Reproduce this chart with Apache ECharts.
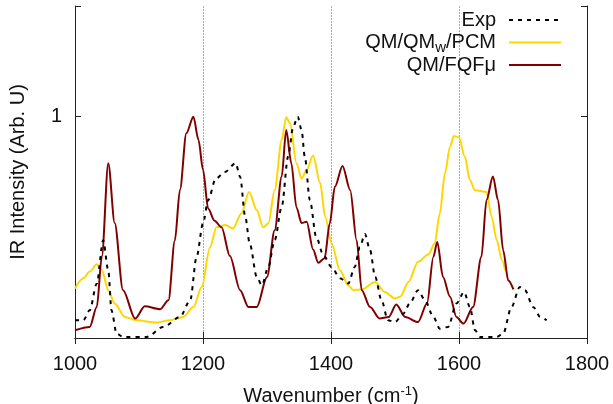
<!DOCTYPE html>
<html>
<head>
<meta charset="utf-8">
<script src="https://cdn.jsdelivr.net/npm/echarts@6/dist/echarts.min.js"></script>
<style>
  html, body { margin: 0; padding: 0; background: #fff; }
  #chart { width: 613px; height: 404px; }
</style>
</head>
<body>
<div id="chart"></div>
<script>
// x ticks (wavenumber) and y ticks
const xTicks = [1000, 1200, 1400, 1600, 1800]
const yTicks = [1]

// [wavenumber, intensity]
const expData = [
  [1000, 0.08], [1013, 0.08], [1023, 0.125], [1034, 0.246], [1044, 0.442], [1052, 0.306],
  [1057, 0.125], [1065, 0.02], [1075, 0.005], [1112, 0.005], [1138, 0.05], [1164, 0.095],
  [1180, 0.17], [1190, 0.367], [1200, 0.517], [1208, 0.623], [1220, 0.72], [1234, 0.75],
  [1251, 0.79], [1258, 0.728], [1266, 0.548], [1273, 0.427], [1284, 0.276], [1292, 0.238],
  [1302, 0.32], [1312, 0.442], [1323, 0.593], [1333, 0.82], [1341, 0.955], [1348, 1.0],
  [1354, 0.94], [1359, 0.82], [1367, 0.623], [1377, 0.455], [1388, 0.375], [1401, 0.32],
  [1414, 0.27], [1427, 0.246], [1437, 0.32], [1445, 0.41], [1453, 0.47], [1461, 0.397],
  [1469, 0.276], [1479, 0.17], [1489, 0.08], [1500, 0.072], [1513, 0.11], [1523, 0.156],
  [1536, 0.216], [1547, 0.17], [1560, 0.095], [1570, 0.042], [1583, 0.05], [1596, 0.156],
  [1608, 0.208], [1617, 0.14], [1625, 0.035], [1633, 0.005], [1659, 0.005], [1669, 0.02],
  [1682, 0.14], [1695, 0.23], [1703, 0.216], [1716, 0.14], [1727, 0.095], [1737, 0.08]
]

const pcmData = [
  [1000, 0.224], [1013, 0.27], [1023, 0.30], [1034, 0.333], [1042, 0.306], [1052, 0.216],
  [1062, 0.156], [1078, 0.095], [1096, 0.08], [1128, 0.07], [1148, 0.08], [1169, 0.095],
  [1185, 0.14], [1198, 0.23], [1211, 0.41], [1221, 0.50], [1235, 0.51], [1247, 0.495],
  [1260, 0.563], [1272, 0.66], [1284, 0.578], [1294, 0.50], [1302, 0.517], [1312, 0.668],
  [1323, 0.895], [1330, 0.997], [1336, 0.97], [1346, 0.79], [1354, 0.72], [1362, 0.76],
  [1372, 0.824], [1383, 0.70], [1391, 0.548], [1401, 0.427], [1414, 0.306], [1427, 0.238],
  [1435, 0.216], [1448, 0.219], [1469, 0.253], [1484, 0.208], [1500, 0.178], [1508, 0.186],
  [1521, 0.253], [1536, 0.344], [1552, 0.377], [1562, 0.427], [1570, 0.563], [1578, 0.744],
  [1586, 0.864], [1592, 0.913], [1600, 0.907], [1609, 0.82], [1617, 0.714], [1625, 0.668],
  [1643, 0.66], [1651, 0.548], [1659, 0.442], [1667, 0.352], [1672, 0.306]
]

const fqfData = [
  [1000, 0.035], [1023, 0.05], [1034, 0.14], [1042, 0.37], [1052, 0.79], [1062, 0.52],
  [1075, 0.216], [1094, 0.088], [1109, 0.143], [1133, 0.13], [1146, 0.17], [1156, 0.44],
  [1164, 0.67], [1174, 0.925], [1185, 1.0], [1193, 0.895], [1200, 0.76], [1208, 0.585],
  [1218, 0.53], [1229, 0.50], [1242, 0.37], [1258, 0.216], [1271, 0.14], [1284, 0.14],
  [1300, 0.276], [1312, 0.487], [1323, 0.73], [1330, 0.94], [1338, 0.79], [1346, 0.59],
  [1354, 0.52], [1362, 0.525], [1372, 0.40], [1380, 0.34], [1390, 0.36], [1398, 0.517],
  [1406, 0.683], [1418, 0.777], [1430, 0.668], [1440, 0.442], [1448, 0.216], [1461, 0.14],
  [1476, 0.088], [1490, 0.095], [1502, 0.151], [1516, 0.095], [1536, 0.072], [1550, 0.156],
  [1560, 0.367], [1566, 0.434], [1575, 0.276], [1586, 0.186], [1596, 0.095], [1607, 0.065],
  [1622, 0.14], [1635, 0.367], [1643, 0.623], [1653, 0.73], [1661, 0.623], [1669, 0.397],
  [1677, 0.26], [1685, 0.22]
]

const font = 'Liberation Sans'

const chart = echarts.init(document.getElementById('chart'))

const axisBase = {
  axisLine: { show: true, lineStyle: { color: '#222', width: 1 } },
  axisTick: { show: true, inside: true, length: 6, lineStyle: { color: '#222' } },
  splitLine: { show: false }
}

chart.setOption({
  animation: false,
  textStyle: { fontFamily: font },
  grid: { left: 75, right: 26, top: 6, bottom: 66, containLabel: false, outerBoundsMode: 'none' },
  legend: {
    orient: 'vertical',
    align: 'right',
    right: 51,
    top: 10,
    padding: 0,
    itemWidth: 52,
    itemHeight: 12,
    itemGap: 0,
    selectedMode: false,
    itemStyle: { opacity: 0 },
    formatter: name => name === 'QM/QMw/PCM' ? '{a|QM/QM}{s|w}{a|/PCM}' : name,
    textStyle: {
      fontSize: 20, color: '#111', fontFamily: font, padding: [0, 8, 0, 0], lineHeight: 20,
      rich: {
        a: { fontSize: 20, fontFamily: font, color: '#111', lineHeight: 20 },
        s: { fontSize: 15, fontFamily: font, color: '#111', lineHeight: 20, padding: [10, 0, 0, 0] }
      }
    },
    data: ['Exp', 'QM/QMw/PCM', 'QM/FQFμ']
  },
  xAxis: [{
    ...axisBase,
    type: 'value',
    min: xTicks[0],
    max: xTicks[xTicks.length - 1],
    interval: 200,
    name: 'Wavenumber (cm{sup|-1})',
    nameLocation: 'middle',
    nameGap: 47,
    nameTextStyle: {
      fontSize: 20, color: '#111', fontFamily: font,
      rich: { sup: { fontSize: 13, fontFamily: font, color: '#111', padding: [0, 0, 10, 0] } }
    },
    axisLabel: { fontSize: 20, color: '#111', margin: 16, fontFamily: font, formatter: v => String(v) },
    splitLine: { show: true, lineStyle: { color: '#aaa', type: [2, 1], width: 1 } }
  }, {
    ...axisBase,
    type: 'value',
    position: 'top',
    min: xTicks[0],
    max: xTicks[xTicks.length - 1],
    interval: 200,
    axisLabel: { show: false }
  }],
  yAxis: [{
    ...axisBase,
    type: 'value',
    min: 0,
    max: 1.5,
    interval: 1,
    name: 'IR Intensity (Arb. U)',
    nameLocation: 'middle',
    nameGap: 47,
    nameTextStyle: { fontSize: 20, color: '#111', fontFamily: font },
    axisLabel: {
      fontSize: 20, color: '#111', margin: 13, fontFamily: font,
      formatter: v => yTicks.includes(v) ? String(v) : ''
    }
  }, {
    ...axisBase,
    type: 'value',
    position: 'right',
    min: 0,
    max: 1.5,
    interval: 1,
    axisLabel: { show: false }
  }],
  series: [{
    name: 'Exp',
    type: 'line',
    data: expData,
    symbol: 'none',
    smooth: 0.3,
    smoothMonotone: 'x',
    lineStyle: { color: '#000', width: 2, type: [4, 5] },
    itemStyle: { color: '#000' },
    z: 3
  }, {
    name: 'QM/QMw/PCM',
    type: 'line',
    data: pcmData,
    symbol: 'none',
    smooth: 0.3,
    smoothMonotone: 'x',
    lineStyle: { color: '#FFD700', width: 2 },
    itemStyle: { color: '#FFD700' },
    z: 2
  }, {
    name: 'QM/FQFμ',
    type: 'line',
    data: fqfData,
    symbol: 'none',
    smooth: 0.3,
    smoothMonotone: 'x',
    lineStyle: { color: '#800000', width: 2 },
    itemStyle: { color: '#800000' },
    z: 2
  }]
})
</script>
</body>
</html>
